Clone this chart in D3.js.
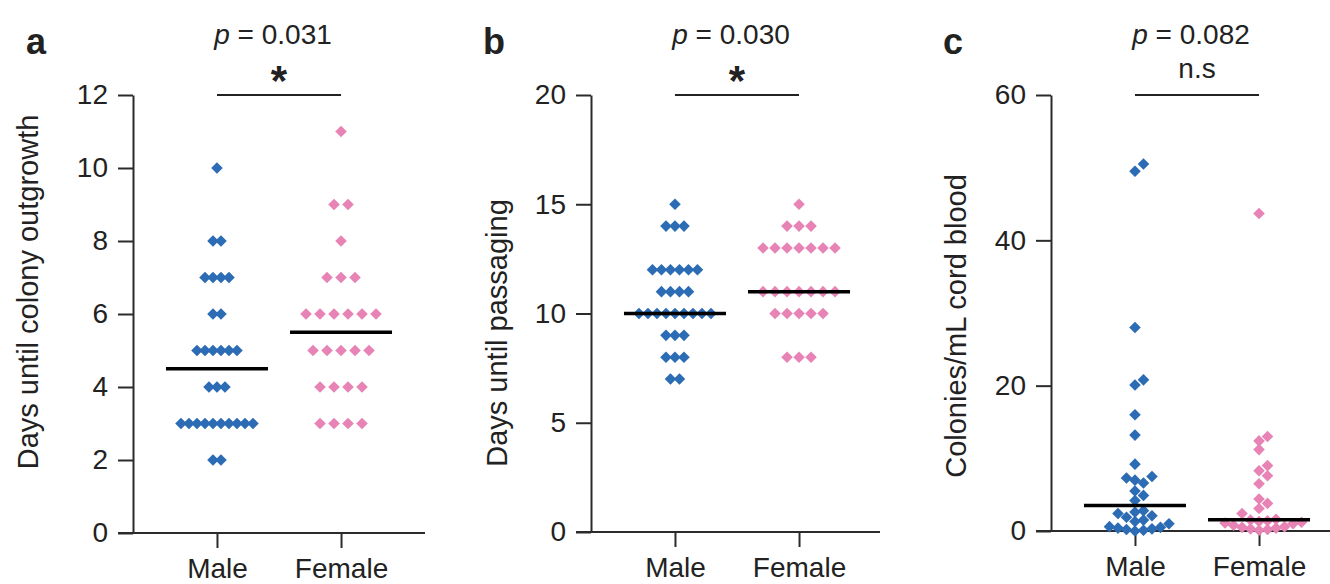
<!DOCTYPE html>
<meta charset="utf-8">
<head>
    <title>Sex differences in colony outgrowth</title>
    <script src="https://d3js.org/d3.v7.min.js"></script>
    <style>
        body { margin: 0; background: #ffffff; }
        text { font-family: "Liberation Sans", Arial, sans-serif; fill: #222; }
        .domain, .tick line { stroke: #2b2b2b; stroke-width: 2px; }
    </style>
</head>
<body>
<svg id="chart" width="1330" height="584"></svg>
<script>
// categories
var groups = ["Male", "Female"];

// a - days until colony outgrowth
var outgrowthMale = [10, 8, 8, 7, 7, 7, 7, 6, 6, 5, 5, 5, 5, 5, 5, 4, 4, 4,
    3, 3, 3, 3, 3, 3, 3, 3, 3, 3, 2, 2];
var outgrowthFemale = [11, 9, 9, 8, 7, 7, 7, 6, 6, 6, 6, 6, 6, 5, 5, 5, 5, 5,
    4, 4, 4, 4, 3, 3, 3, 3];

// b - days until passaging
var passageMale = [15, 14, 14, 14, 12, 12, 12, 12, 12, 12, 11, 11, 11, 11,
    10, 10, 10, 10, 10, 10, 10, 10, 10, 9, 9, 9, 8, 8, 8, 7, 7];
var passageFemale = [15, 14, 14, 14, 13, 13, 13, 13, 13, 13, 13,
    11, 11, 11, 11, 11, 11, 11, 10, 10, 10, 10, 10, 8, 8, 8];

// c - colonies / mL cord blood
var coloniesMale = [50.5, 49.5, 28, 20.8, 20.1, 16, 13.2, 9.2, 7.5, 7.3, 7.0, 6.6,
    5.5, 4.9, 4.2, 2.8, 2.6, 2.4, 2.1, 1.9, 1.5, 1.3, 1.0, 0.6, 0.5, 0.4, 0.3, 0.2, 0.1, 0.0];
var coloniesFemale = [43.7, 13.0, 12.4, 11.2, 9.0, 8.3, 7.6, 6.5, 4.4, 3.8, 3.1, 2.4,
    1.6, 1.5, 1.4, 1.3, 1.2, 1.1, 1.0, 0.8, 0.6, 0.5, 0.4, 0.3, 0.2, 0.1];

// axes / annotations
var outgrowthTicks = [0, 2, 4, 6, 8, 10, 12];
var passageTicks = [0, 5, 10, 15, 20];
var coloniesTicks = [0, 20, 40, 60];
var pValues = ["0.031", "0.030", "0.082"];
var sigLabels = ["*", "*", "n.s"];

var colors = {Male: "#2c6cb4", Female: "#e784b5"};

var svg = d3.select("#chart");

var panels = [
    {letter: "a", left: 133, bottom: 533, end: 292, ymax: 12, ticks: outgrowthTicks,
     title: "Days until colony outgrowth", titleX: -95, titleY: 292, layout: "rows",
     data: {Male: outgrowthMale, Female: outgrowthFemale}, p: pValues[0], sig: sigLabels[0]},
    {letter: "b", left: 591, bottom: 532, end: 289, ymax: 20, ticks: passageTicks,
     title: "Days until passaging", titleX: -84, titleY: 333, layout: "rows",
     data: {Male: passageMale, Female: passageFemale}, p: pValues[1], sig: sigLabels[1]},
    {letter: "c", left: 1051, bottom: 531, end: 290, ymax: 60, ticks: coloniesTicks,
     title: "Colonies/mL cord blood", titleX: -85, titleY: 326, layout: "dodge",
     data: {Male: coloniesMale, Female: coloniesFemale}, p: pValues[2], sig: sigLabels[2]}
];

// rows of equal values, centred on the column (like prism scatter)
function rowLayout(values, y) {
    var rows = d3.group(values, function(d) { return d; });
    var maxCount = d3.max(rows.values(), function(r) { return r.length; });
    var spacing = Math.min(14, 72 / Math.max(1, maxCount - 1));
    var pts = [];
    rows.forEach(function(r, v) {
        r.forEach(function(d, i) {
            pts.push({v: v, dx: (i - (r.length - 1) / 2) * spacing, y: y(v)});
        });
    });
    return pts;
}

// simple dodge for continuous values
function dodgeLayout(values, y) {
    var step = 8.5;
    var placed = [];
    values.slice().sort(d3.ascending).forEach(function(v) {
        var py = y(v);
        for (var k = 0; k < 40; k++) {
            var dx = (k % 2 ? 1 : -1) * Math.ceil(k / 2) * step;
            var hit = placed.some(function(q) {
                return Math.abs(q.dx - dx) < step - 0.5 && Math.abs(q.y - py) < 8;
            });
            if (!hit) { placed.push({v: v, dx: dx, y: py}); break; }
        }
    });
    return placed;
}

panels.forEach(function(p) {
    var g = svg.append("g").attr("transform", "translate(" + p.left + ",0)");

    var y = d3.scaleLinear().domain([0, p.ymax]).range([p.bottom, 95]);
    var x = d3.scalePoint().domain(groups).range([0, 292]).padding(0.677);

    // y axis
    var ya = g.append("g")
        .call(d3.axisLeft(y).tickValues(p.ticks).tickSize(15).tickSizeOuter(0).tickPadding(10));
    ya.selectAll("text").style("font-size", "28px");

    // x axis
    var xa = g.append("g")
        .attr("transform", "translate(0," + p.bottom + ")")
        .call(d3.axisBottom(x).tickSize(15).tickSizeOuter(0).tickPadding(10));
    xa.select(".domain").attr("d", "M-15,0H" + p.end);
    xa.selectAll("text").style("font-size", "28px");

    // y title
    g.append("text")
        .attr("transform", "translate(" + p.titleX + "," + p.titleY + ") rotate(-90)")
        .attr("text-anchor", "middle")
        .style("font-size", "29px")
        .text(p.title);

    // panel letter
    g.append("text")
        .attr("x", p.left < 200 ? -107 : -108)
        .attr("y", 54)
        .style("font-size", "36px")
        .style("font-weight", "bold")
        .text(p.letter);

    // points
    groups.forEach(function(grp) {
        var vals = p.data[grp];
        var pts = p.layout === "rows" ? rowLayout(vals, y) : dodgeLayout(vals, y);
        g.selectAll(".pt-" + grp)
            .data(pts)
            .enter()
            .append("path")
            .attr("class", "pt-" + grp)
            .attr("d", d3.symbol().type(d3.symbolDiamond2).size(86))
            .attr("transform", function(d) {
                return "translate(" + (x(grp) + d.dx) + "," + d.y + ")";
            })
            .style("fill", colors[grp]);

        // median line
        var med = d3.median(vals);
        g.append("line")
            .attr("x1", x(grp) - 51).attr("x2", x(grp) + 51)
            .attr("y1", y(med)).attr("y2", y(med))
            .attr("stroke", "#000")
            .attr("stroke-width", 3.5);
    });

    // significance bar
    var mid = (x("Male") + x("Female")) / 2;
    g.append("line")
        .attr("x1", x("Male")).attr("x2", x("Female"))
        .attr("y1", 95).attr("y2", 95)
        .attr("stroke", "#222")
        .attr("stroke-width", 2);

    var pt = g.append("text")
        .attr("x", mid - 6).attr("y", 44)
        .attr("text-anchor", "middle")
        .style("font-size", "28px");
    pt.append("tspan").style("font-style", "italic").text("p");
    pt.append("tspan").text(" = " + p.p);

    if (p.sig === "*") {
        g.append("text")
            .attr("x", mid).attr("y", 95)
            .attr("text-anchor", "middle")
            .style("font-size", "42px")
            .style("font-weight", "bold")
            .text(p.sig);
    } else {
        g.append("text")
            .attr("x", mid).attr("y", 78)
            .attr("text-anchor", "middle")
            .style("font-size", "28px")
            .text(p.sig);
    }
});
</script>
</body>
